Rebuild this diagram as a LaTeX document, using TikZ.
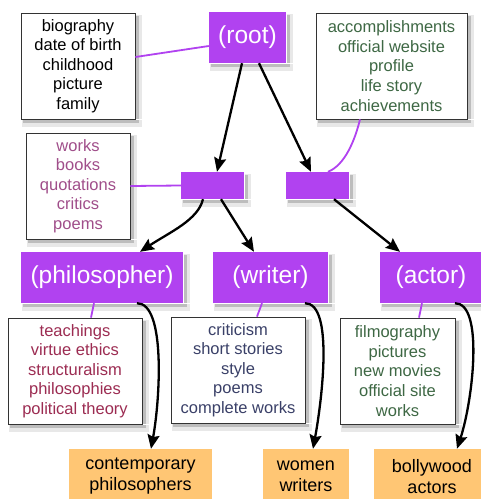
\documentclass[tikz,border=0pt]{standalone}
\usepackage{fontspec}
\setmainfont{Liberation Sans}
\usetikzlibrary{calc,positioning,arrows.meta}
\definecolor{nodepurple}{RGB}{177,66,240}
\definecolor{resorange}{RGB}{255,198,116}
\definecolor{worksmauve}{RGB}{160,78,138}
\definecolor{teachred}{RGB}{156,44,82}
\definecolor{critnavy}{RGB}{58,64,104}
\definecolor{accgreen}{RGB}{62,104,68}

\begin{document}
\begin{tikzpicture}[x=1pt,y=1pt]
	\tikzstyle{facet}=[draw=black!80,fill=white,line width=0.8pt,inner sep=0pt,align=center,
		font=\fontsize{16.5}{19.6}\selectfont]
	\tikzstyle{concept}=[fill=nodepurple,text=white,inner sep=0pt,minimum height=51,
		font=\fontsize{24.5}{28}\selectfont]
	\tikzstyle{result}=[fill=resorange,inner sep=0pt,align=center,minimum height=55,
		font=\fontsize{18}{21}\selectfont]
	\tikzstyle{isa}=[-{Stealth[length=14pt,width=12pt,inset=2pt]},line width=2.3pt]
	\tikzstyle{facetlink}=[nodepurple,line width=1.8pt]
	
	\fill [white] (0,0) rectangle (481,-499);
	\useasboundingbox (0,0) rectangle (481,-499);
	
	%
	% concepts
	%
	\node [concept,minimum width=77] (root) at (247.5,-37.5) {(root)};
	\node [concept,minimum width=63,minimum height=27] (sub-a) at (212.5,-185.5) {};
	\node [concept,minimum width=63,minimum height=27] (sub-b) at (317.5,-185.5) {};
	\node [concept,minimum width=162] (phil) at (102,-277.5) {(philosopher)};
	\node [concept,minimum width=115] (writer) at (270.5,-277.5) {(writer)};
	\node [concept,minimum width=102] (actor) at (431,-277.5) {(actor)};
	
	%
	% facets
	%
	\node [facet,minimum width=114,minimum height=106] (bio) at (78,-66)
		{biography\\date of birth\\childhood\\picture\\family};
	\node [facet,text=accgreen,minimum width=151,minimum height=106] (acc) at (391.5,-66)
		{accomplishments\\official website\\profile\\life story\\achievements};
	\node [facet,text=worksmauve,minimum width=104,minimum height=106] (works) at (78,-186)
		{works\\books\\quotations\\critics\\poems};
	\node [facet,text=teachred,minimum width=134,minimum height=106] (teach) at (75,-371)
		{teachings\\virtue ethics\\structuralism\\philosophies\\political theory};
	\node [facet,text=critnavy,minimum width=134,minimum height=106] (crit) at (238,-370)
		{criticism\\short stories\\style\\poems\\complete works};
	\node [facet,text=accgreen,minimum width=115,minimum height=106] (film) at (397.5,-371)
		{filmography\\pictures\\new movies\\official site\\works};
	
	%
	% results
	%
	\node [result,minimum width=143] (contemp) at (140.5,-476.5) {contemporary\\philosophers};
	\node [result,minimum width=86] (women) at (306,-476.5) {women\\writers};
	\node [result,minimum width=116] (bolly) at (432,-476.5) {bollywood\\actors};
	
	%
	% shadows, right and bottom strips only
	%
	\foreach \n in {root,sub-a,sub-b,phil,writer,actor,bio,acc,works,teach,crit,film} {
		\fill [black!9] ($(\n.south east)+(0.4,0)$) rectangle ($(\n.north east)+(7,-2)$);
		\fill [black!9] ($(\n.south west)+(1,-8)$) rectangle ($(\n.south east)+(7,-0.4)$);
		\fill [black!26] ($(\n.south east)+(0.4,0)$) rectangle ($(\n.north east)+(3.5,-3)$);
		\fill [black!26] ($(\n.south west)+(2,-4)$) rectangle ($(\n.south east)+(3.5,-0.4)$);
	}
	
	%
	% facet links
	%
	\begin{scope}[facetlink]
		\draw ([yshift=9]bio.east) -- ([yshift=-8.5]root.west);
		\draw (works.east) -- (sub-a.west);
		\draw ([xshift=-31.5]acc.south) .. controls (355,-140) and (345,-165) .. ([xshift=10.5]sub-b.north);
		\draw ([xshift=-8]phil.south) -- ([xshift=16]teach.north);
		\draw ([xshift=-8.5]writer.south) -- ([xshift=19]crit.north);
		\draw ([xshift=-9]actor.south) -- ([xshift=21.5]film.north);
	\end{scope}
	
	%
	% hierarchy
	%
	\begin{scope}[isa]
		\draw ([xshift=-5.5]root.south) -- ([xshift=4.5]sub-a.north);
		\draw ([xshift=11.5]root.south) -- ([xshift=-6.5]sub-b.north);
		\draw ([xshift=-9.5]sub-a.south) .. controls (198,-220) and (170,-232) .. ([xshift=38]phil.north);
		\draw ([xshift=8.5]sub-a.south) -- ([xshift=-16.5]writer.north);
		\draw ([xshift=16.5]sub-b.south) -- ([xshift=-31]actor.north);
	\end{scope}
	
	%
	% results
	%
	\begin{scope}[isa]
		\draw ([xshift=35]phil.south) .. controls (166,-303) and (160,-400) .. ([xshift=10.5]contemp.north);
		\draw ([xshift=34.5]writer.south) .. controls (334,-303) and (322,-400) .. ([xshift=7]women.north);
		\draw ([xshift=24]actor.south) .. controls (484,-303) and (473,-400) .. ([xshift=25]bolly.north);
	\end{scope}
	
\end{tikzpicture}
\end{document}
